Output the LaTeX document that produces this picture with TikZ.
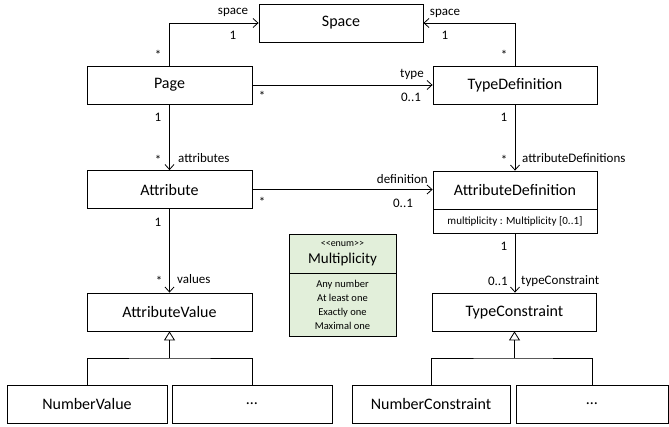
\documentclass[tikz,border=0pt]{standalone}
\usepackage{fontspec}
\setmainfont{Carlito}
\usetikzlibrary{arrows.meta}
\definecolor{enumfill}{HTML}{E2EFDA}
\begin{document}
\begin{tikzpicture}[x=1pt,y=-1pt,
  cls/.style={draw,line width=0.8pt,minimum width=165pt,minimum height=38pt,
    inner sep=0pt,font=\fontsize{16}{19}\selectfont},
  subcls/.style={cls,minimum width=160pt},
  lbl/.style={inner sep=0pt,font=\fontsize{13}{15}\selectfont},
  assoc/.style={line width=0.8pt,-{Straight Barb[length=5pt,width=9pt]}},
  plainline/.style={line width=0.8pt},
  gen/.style={line width=0.8pt,-{Triangle[open,length=9pt,width=11pt]}},
  enumbox/.style={draw,line width=0.8pt,fill=enumfill,minimum width=107pt,
    inner sep=0pt,align=center},
]
\useasboundingbox (0,0) rectangle (669,426);

% classes
\node[cls,minimum width=164pt] (space) at (341,23) {Space};
\node[cls] (page) at (169.5,85) {Page};
\node[cls,minimum width=164pt] (typedef) at (515,85) {TypeDefinition};
\node[cls] (attr) at (169.5,189.5) {Attribute};
\node[cls,minimum width=164pt] (attrdef) at (515,190) {AttributeDefinition};
\node[cls,minimum width=164pt,minimum height=24pt,font=\fontsize{11}{13}\selectfont]
  (attrdefops) at (515,221) {multiplicity : Multiplicity [0..1]};
\node[cls] (attrval) at (169.5,312) {AttributeValue};
\node[cls,minimum width=164pt] (typecon) at (514.5,312) {TypeConstraint};
\node[subcls] (numval) at (87,404) {NumberValue};
\node[subcls] (moreval) at (252,404) {…};
\node[subcls,minimum width=158pt] (numcon) at (431,404) {NumberConstraint};
\node[subcls,minimum width=152pt] (morecon) at (592,404) {…};

% enumeration
\node[enumbox,minimum height=39pt,font=\fontsize{15}{17}\selectfont] (enumhead) at (342.5,253.5)
  {{\fontsize{10}{12}\selectfont <{}<enum>{}>}\\Multiplicity};
\node[enumbox,minimum height=63pt,font=\fontsize{10.5}{14}\selectfont] (enumbody) at (342.5,304.5)
  {Any number\\At least one\\Exactly one\\Maximal one};

% associations
\draw[assoc] (page.north) |- (space.west);
\draw[assoc] (typedef.north) |- (space.east);
\draw[assoc] (page.east) -- (typedef.west);
\draw[assoc] (page.south) -- (attr.north);
\draw[assoc] (attr.east) -- (attrdef.west |- attr.east);
\draw[assoc] (typedef.south) -- (attrdef.north);
\draw[assoc] (attr.south) -- (attrval.north);
\draw[assoc] (attrdefops.south) -- (attrdefops.south |- typecon.north);

% generalizations
\coordinate (genval) at (169.5,358);
\coordinate (gencon) at (514.5,358);
\draw[gen] (genval) -- (attrval.south);
\draw[plainline] (numval.north) |- (genval) -| (moreval.north);
\draw[gen] (gencon) -- (typecon.south);
\draw[plainline] (numcon.north) |- (gencon) -| (morecon.north);

% association end labels
\node[lbl] (l1) at (233,12) {space};
\node[lbl] (l2) at (233,35) {1};
\node[lbl] (l3) at (158,55) {*};
\node[lbl] (l4) at (445,13) {space};
\node[lbl] (l5) at (445,35) {1};
\node[lbl] (l6) at (504,55) {*};
\node[lbl] (l7) at (262,96) {*};
\node[lbl] (l8) at (412,74) {type};
\node[lbl] (l9) at (411,97) {0..1};
\node[lbl] (l10) at (158,117) {1};
\node[lbl] (l11) at (158,160) {*};
\node[lbl,anchor=west] (l12) at (178,158) {attributes};
\node[lbl] (l13) at (262,202) {*};
\node[lbl,anchor=east] (l14) at (428,179) {definition};
\node[lbl] (l15) at (403,203) {0..1};
\node[lbl] (l16) at (504,117) {1};
\node[lbl] (l17) at (504,160) {*};
\node[lbl,anchor=west] (l18) at (522,158) {attributeDefinitions};
\node[lbl] (l19) at (158,222) {1};
\node[lbl] (l20) at (159,281) {*};
\node[lbl,anchor=west] (l21) at (177,279) {values};
\node[lbl] (l22) at (504,246) {1};
\node[lbl,anchor=east] (l23) at (508,281) {0..1};
\node[lbl,anchor=west] (l24) at (521,281) {typeConstraint};
\end{tikzpicture}
\end{document}
